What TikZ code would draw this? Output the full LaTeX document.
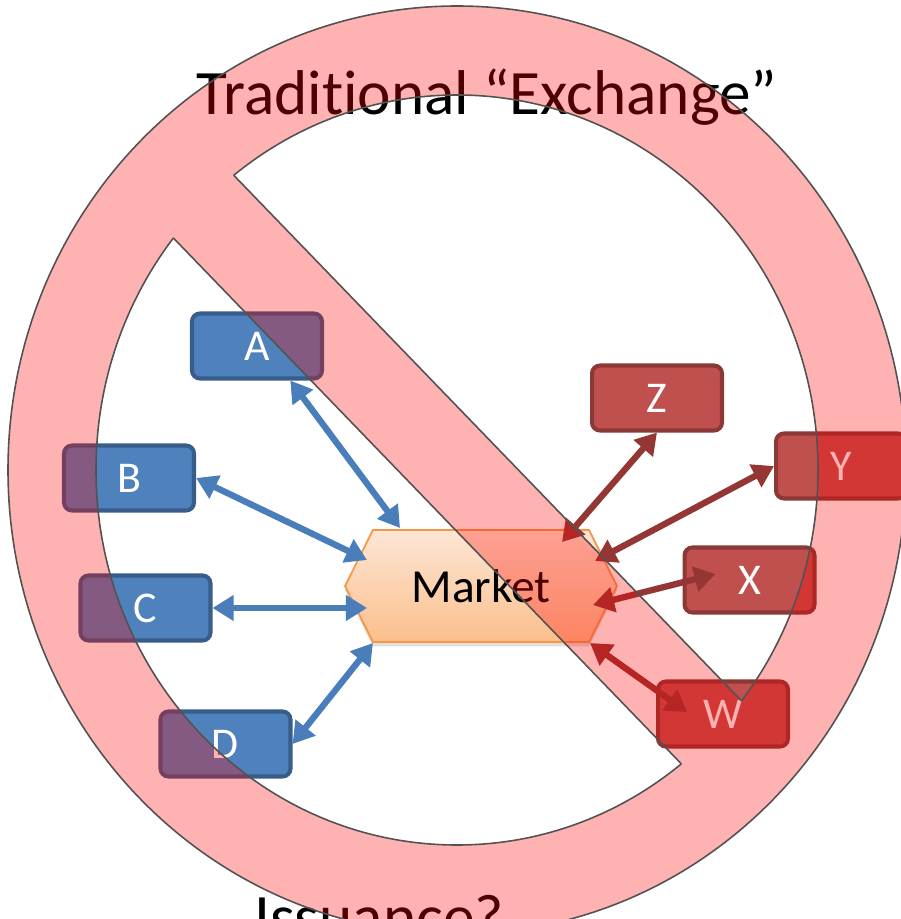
\documentclass[tikz,border=0pt]{standalone}
\usepackage{fontspec}
\setmainfont{Carlito}[Ligatures=NoCommon]
\usetikzlibrary{arrows.meta,shapes.symbols,shadows,calc}

\definecolor{bfill}{HTML}{4F81BD}
\definecolor{bline}{HTML}{385D8A}
\definecolor{rfill}{HTML}{C0504D}
\definecolor{rline}{HTML}{8C3836}
\definecolor{barrow}{HTML}{4A7EBB}
\definecolor{rarrow}{HTML}{943634}
\definecolor{mtop}{HTML}{FDE6D5}
\definecolor{mbot}{HTML}{FBBF8C}
\definecolor{mline}{HTML}{F79646}

\begin{document}
\begin{tikzpicture}
[x=0.02cm,y=-0.02cm
,box/.style={draw,rounded corners=4.5pt,line width=2.3pt,minimum width=2.6cm,minimum height=1.3cm,text=white,font=\fontsize{25}{30}\selectfont}
,bbox/.style={box,fill=bfill,draw=bline}
,rbox/.style={box,fill=rfill,draw=rline}
,mkt/.style={signal,signal to=west and east,signal pointer angle=127,draw=mline,line width=1pt,top color=mtop,bottom color=mbot,minimum width=5.44cm,minimum height=2.24cm,font=\fontsize{27}{32}\selectfont,drop shadow={opacity=0.25,shadow xshift=0pt,shadow yshift=-2.5pt}}
,ba/.style={draw=barrow,line width=3.6pt,arrows={Triangle[length=12pt,width=14pt]-Triangle[length=12pt,width=14pt]}}
,ra/.style={ba,draw=rarrow}
,big/.style={font=\fontsize{36}{43}\selectfont,anchor=base,inner sep=0pt}
,sign/.style={fill=red,fill opacity=0.3}
,signline/.style={draw=black!68,line width=0.9pt}
]
\useasboundingbox (0,0) rectangle (900,919);
\node[big] (title) at (487,114) {Traditional “Exchange”};
\node[big] (iss) at (379,938) {Issuance?};
\node[bbox] (a) at (257,346) {A};
\node[bbox] (b) at (129,478) {B};
\node[bbox] (c) at (145.5,608) {C};
\node[bbox] (d) at (225.5,744) {D};
\node[rbox] (z) at (657,398) {Z};
\node[rbox] (y) at (841,466) {Y};
\node[rbox] (x) at (749.5,580) {X};
\node[rbox] (w) at (723,714) {W};
\node[mkt] (m) at (481,586) {Market};
\draw[ba] (a.-46) -- ($(m)+(-81,-58)$);
\draw[ba] (b.east) -- ($(m)+(-114,-26)$);
\draw[ba] (c.east) -- ($(m)+(-114,22)$);
\draw[ba] (d.east) -- ($(m)+(-108,57)$);
\draw[ra] (z.south) -- ($(m)+(81,-44)$);
\draw[ra] (y.west) -- ($(m)+(114,-25)$);
\draw[ra] ($(x)+(-34,-6)$) -- ($(m)+(112,19)$);
\draw[ra] ($(w)+(-36,-2)$) -- ($(m)+(109,57)$);
% the "no" sign on top
\fill[sign] (906,470) arc[start angle=0,end angle=360,x radius=449,y radius=464] -- cycle
  (818,470) arc[start angle=0,end angle=-360,x radius=361,y radius=375] -- cycle
  (206.9,147.5) -- (769.7,730.1) -- (707.1,790.5) -- (144.3,207.9) -- cycle;
\draw[signline] (457,470) ellipse [x radius=449,y radius=464];
\begin{scope}
\clip (-67.5,-136.6) -- (1044.1,1014.2) -- (1100,-200) -- cycle;
\draw[signline] (457,470) ellipse [x radius=361,y radius=375];
\end{scope}
\begin{scope}
\clip (-130.1,-76.2) -- (981.5,1074.6) -- (-200,1100) -- cycle;
\draw[signline] (457,470) ellipse [x radius=361,y radius=375];
\end{scope}
\begin{scope}
\clip (457,470) ellipse [x radius=361,y radius=375];
\draw[signline] (-67.5,-136.6) -- (1044.1,1014.2);
\draw[signline] (-130.1,-76.2) -- (981.5,1074.6);
\end{scope}
\end{tikzpicture}
\end{document}
